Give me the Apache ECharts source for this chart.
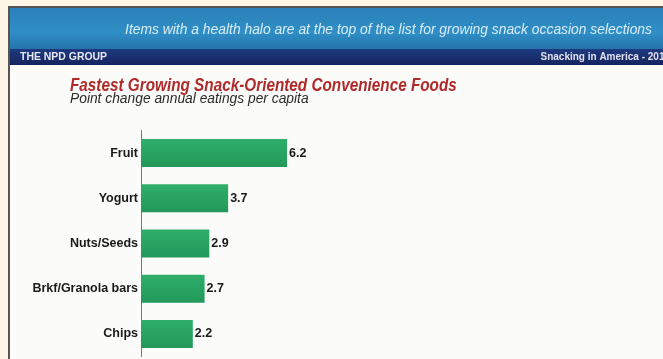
<!DOCTYPE html>
<html><head><meta charset="utf-8">
<script src="https://cdn.jsdelivr.net/npm/echarts@6/dist/echarts.min.js"></script>
<style>html,body{margin:0;padding:0;background:#fdf5e6}#c{width:663px;height:359px}</style>
</head><body><div id="c"></div>
<script>
const categories = ["Fruit", "Yogurt", "Nuts/Seeds", "Brkf/Granola bars", "Chips"];
const values = [6.2, 3.7, 2.9, 2.7, 2.2];
const headerText = "Items with a health halo are at the top of the list for growing snack occasion selections";
const brandText = "THE NPD GROUP";
const sourceText = "Snacking in America - 2013";
const titleText = "Fastest Growing Snack-Oriented Convenience Foods";
const subtitleText = "Point change annual eatings per capita";

const FN = "'Liberation Sans', Arial, sans-serif";
const chart = echarts.init(document.getElementById('c'));
chart.setOption({
  animation: false,
  backgroundColor: '#fdf5e6',
  graphic: [
    {type:'rect', shape:{x:9, y:7, width:660, height:360}, style:{fill:'#fbfbfa', stroke:'#555', lineWidth:2}, z:-10},
    {type:'rect', shape:{x:10, y:8, width:660, height:41}, style:{fill:new echarts.graphic.LinearGradient(0,0,0,1,[{offset:0,color:'#2a80b8'},{offset:0.6,color:'#2f8fc6'},{offset:1,color:'#2672ab'}])}, z:-9},
    {type:'rect', shape:{x:10, y:49, width:660, height:16}, style:{fill:new echarts.graphic.LinearGradient(0,0,0,1,[{offset:0,color:'#1d3a80'},{offset:1,color:'#16245e'}])}, z:-9},
    {type:'text', x:652, y:30, style:{text:headerText, fill:'#d8ecf7', font:"italic 14px "+FN, align:'right', verticalAlign:'middle'}, scaleX:0.99},
    {type:'text', x:20, y:57, scaleX:0.95, style:{text:brandText, fill:'#e8e8f4', font:"bold 11px "+FN, verticalAlign:'middle'}},
    {type:'text', x:670, y:57, style:{text:sourceText, fill:'#e0e0f0', font:"bold 10px "+FN, align:'right', verticalAlign:'middle'}},
    {type:'text', x:70, y:86, scaleX:0.85, style:{text:titleText, fill:'#b02a2a', font:"italic bold 18px "+FN, verticalAlign:'middle'}},
    {type:'text', x:70, y:99, scaleX:0.92, style:{text:subtitleText, fill:'#2a2a2a', font:"italic 15px "+FN, verticalAlign:'middle'}}
  ],
  grid: {left:141, top:130.5, width:235.5, height:226},
  xAxis: {type:'value', min:0, max:10, show:false},
  yAxis: {
    type:'category', data:categories, inverse:true,
    axisLine:{show:true, lineStyle:{color:'#777', width:1}},
    axisTick:{show:false},
    axisLabel:{color:'#1a1a1a', fontFamily:FN, fontWeight:'bold', fontSize:12.5, margin:3}
  },
  series: [{
    type:'bar', data:values, barWidth:28,
    itemStyle:{color:new echarts.graphic.LinearGradient(0,0,0,1,[{offset:0,color:'#2fae6a'},{offset:1,color:'#22985a'}])},
    label:{show:true, position:'right', distance:2, color:'#1a1a1a', fontFamily:FN, fontWeight:'bold', fontSize:12.5, formatter:p=>p.value.toFixed(1)}
  }]
});
</script></body></html>
